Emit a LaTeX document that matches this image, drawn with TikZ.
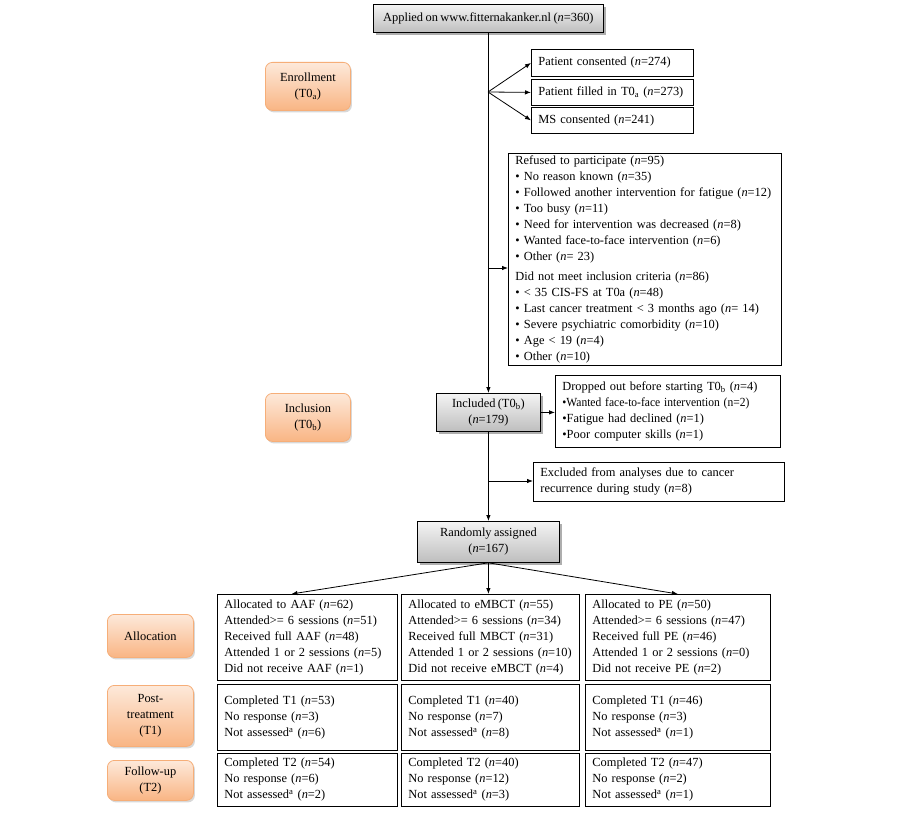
\documentclass[tikz,border=0pt]{standalone}
\usepackage{fontspec}
\usepackage{graphicx}
\setmainfont{Liberation Serif}
\usetikzlibrary{arrows.meta,shadows,calc}
\definecolor{otop}{HTML}{FDE9DA}
\definecolor{obot}{HTML}{F9B584}
\definecolor{obord}{HTML}{F6AE78}
\definecolor{gtop}{HTML}{F4F4F4}
\definecolor{gbot}{HTML}{BEBEBE}
\newcommand{\nn}{\textit{n}}
\newskip\myspskip
\myspskip=2.4pt plus 1pt minus 0.5pt
\newcommand{\myfnt}{\fontsize{12.4}{16}\selectfont\spaceskip=\myspskip}
\begin{document}
\begin{tikzpicture}[x=1pt,y=-1pt,
  font=\myfnt,
  line width=0.8pt,
  arr/.style={-{Latex[length=6pt,width=4.5pt]}},
  box/.style={draw=black, anchor=north west, inner xsep=7pt, inner ysep=2pt, align=left},
  gbox/.style={draw=black, anchor=north west, inner sep=2pt, align=center,
    top color=gtop, bottom color=gbot,
    drop shadow={shadow xshift=2.5pt, shadow yshift=-2.5pt, opacity=0.45, fill=black!70}},
  olab/.style={draw=obord, anchor=north west, rounded corners=7pt, inner sep=2pt, align=center,
    top color=otop, bottom color=obot,
    drop shadow={shadow xshift=1.5pt, shadow yshift=-2pt, opacity=0.25, fill=black!60}}
]
\useasboundingbox[fill=white] (0,0) rectangle (897,813);

% top
\node[gbox, minimum width=230, minimum height=28] (app) at (373,4)
  {Applied on www.fitternakanker.nl (\nn=360)};

% left labels
\node[olab, minimum width=85, minimum height=48] (lenr) at (265,62) {Enrollment\\(T0\textsubscript{a})};
\node[olab, minimum width=85, minimum height=48] (linc) at (265,393) {Inclusion\\(T0\textsubscript{b})};
\node[olab, minimum width=86, minimum height=43] (lall) at (107,614) {Allocation};
\node[olab, minimum width=86, minimum height=61] (lpost) at (107,685) {Post-\\treatment\\(T1)};
\node[olab, minimum width=86, minimum height=40] (lfol) at (107,760) {Follow-up\\(T2)};

% enrollment boxes
\node[box, text width=148, minimum height=27] (pc) at (531,49) {Patient consented (\nn=274)};
\node[box, text width=148, minimum height=26] (pf) at (531,79) {Patient filled in T0\textsubscript{a} (\nn=273)};
\node[box, text width=148, minimum height=26] (ms) at (531,107) {MS consented (\nn=241)};

% refused
\node[box, text width=259, minimum height=212] (ref) at (508,153)
{Refused to participate (\nn=95)\\
• No reason known (\nn=35)\\
• Followed another intervention for fatigue (\nn=12)\\
• Too busy (\nn=11)\\
• Need for intervention was decreased (\nn=8)\\
• Wanted face-to-face intervention (\nn=6)\\
• Other (\nn= 23)\\[4pt]
Did not meet inclusion criteria (\nn=86)\\
• < 35 CIS-FS at T0a (\nn=48)\\
• Last cancer treatment < 3 months ago (\nn= 14)\\
• Severe psychiatric comorbidity (\nn=10)\\
• Age < 19 (\nn=4)\\
• Other (\nn=10)};

% included
\node[gbox, minimum width=104, minimum height=38] (inc) at (436,393)
  {Included (T0\textsubscript{b})\\(\nn=179)};
\node[box, text width=211, minimum height=72] (drop) at (555,375)
{Dropped out before starting T0\textsubscript{b} (\nn=4)\\
\scalebox{0.93}[1]{•Wanted face-to-face intervention (n=2)}\\
•Fatigue had declined (\nn=1)\\
•Poor computer skills (\nn=1)};

\node[box, text width=237, minimum height=39] (exc) at (533,462)
{Excluded from analyses due to cancer\\recurrence during study (\nn=8)};

\node[gbox, minimum width=142, minimum height=41] (rand) at (417,521)
  {Randomly assigned\\(\nn=167)};

% allocation
\node[box, text width=166, minimum height=86] (aaf) at (217,594)
{Allocated to AAF (\nn=62)\\
Attended>= 6 sessions (\nn=51)\\
Received full AAF (\nn=48)\\
Attended 1 or 2 sessions (\nn=5)\\
Did not receive AAF (\nn=1)};
\node[box, text width=164, minimum height=86] (mbct) at (401,594)
{Allocated to eMBCT (\nn=55)\\
Attended>= 6 sessions (\nn=34)\\
Received full MBCT (\nn=31)\\
Attended 1 or 2 sessions (\nn=10)\\
Did not receive eMBCT (\nn=4)};
\node[box, text width=171, minimum height=86] (pe) at (585,594)
{Allocated to PE (\nn=50)\\
Attended>= 6 sessions (\nn=47)\\
Received full PE (\nn=46)\\
Attended 1 or 2 sessions (\nn=0)\\
Did not receive PE (\nn=2)};

% T1
\node[box, text width=166, minimum height=66] (t1a) at (217,684)
{Completed T1 (\nn=53)\\No response (\nn=3)\\Not assessed\textsuperscript{a} (\nn=6)\\[-6pt]};
\node[box, text width=164, minimum height=66] (t1b) at (401,684)
{Completed T1 (\nn=40)\\No response (\nn=7)\\Not assessed\textsuperscript{a} (\nn=8)\\[-6pt]};
\node[box, text width=171, minimum height=66] (t1c) at (585,684)
{Completed T1 (\nn=46)\\No response (\nn=3)\\Not assessed\textsuperscript{a} (\nn=1)\\[-6pt]};

% T2
\node[box, text width=166, minimum height=53] (t2a) at (217,753)
{Completed T2 (\nn=54)\\No response (\nn=6)\\Not assessed\textsuperscript{a} (\nn=2)};
\node[box, text width=164, minimum height=53] (t2b) at (401,753)
{Completed T2 (\nn=40)\\No response (\nn=12)\\Not assessed\textsuperscript{a} (\nn=3)};
\node[box, text width=171, minimum height=53] (t2c) at (585,753)
{Completed T2 (\nn=47)\\No response (\nn=2)\\Not assessed\textsuperscript{a} (\nn=1)};

% connectors
\coordinate (b1) at (488,92);
\coordinate (b2) at (488,268);
\coordinate (b3) at (488,481);
\draw[arr] (app.south) -- (inc.north);
\draw[arr] (b1) -- (pc.west);
\draw[arr] (b1) -- (pf.west);
\draw[arr] (b1) -- (ms.west);
\draw[arr] (b2) -- (b2 -| ref.west);
\draw[arr] (inc.east) -- (inc.east -| drop.west);
\draw[arr] (inc.south) -- (rand.north);
\draw[arr] (b3) -- (b3 -| exc.west);
\draw[arr] (rand.south) -- ($(aaf.north)+(-16,0)$);
\draw[arr] (rand.south) -- (rand.south |- mbct.north);
\draw[arr] (rand.south) -- (pe.north);
\end{tikzpicture}
\end{document}
